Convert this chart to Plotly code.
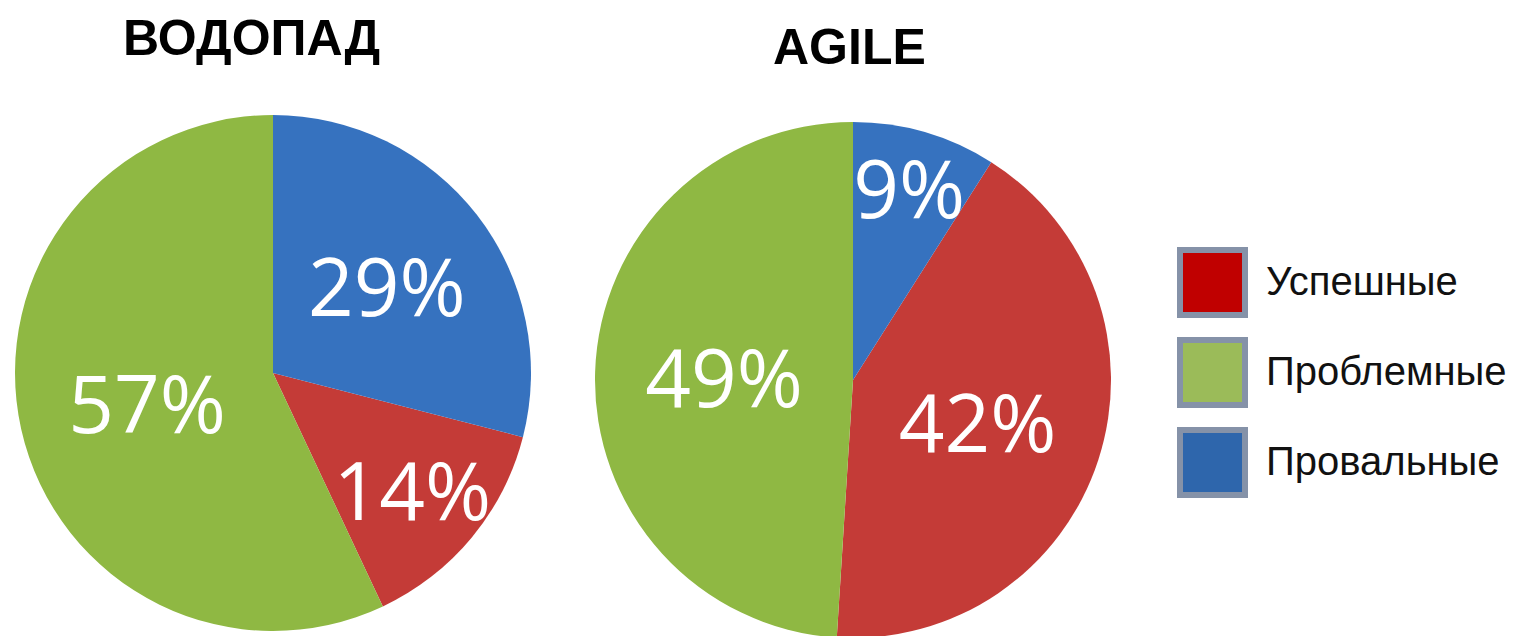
import plotly.graph_objects as go

# ---- data ----
categories = ["Успешные", "Проблемные", "Провальные"]
waterfall_values = [14, 57, 29]
agile_values = [42, 49, 9]
chart_titles = ["ВОДОПАД", "AGILE"]

# ---- style ----
W, H = 1519, 636
pie_colors = ["#C43B37", "#8FB843", "#3672BF"]
legend_colors = ["#C00000", "#9BBB59", "#2E66AC"]
legend_border = "#8592A8"


def px(x):
    return x / W


def py(y):
    return 1 - y / H


def rotation_for(values):
    # first slice (Успешные) starts right after the Провальные slice (which starts at 12 o'clock)
    return values[2] / sum(values) * 360


fig = go.Figure()

pie_font = dict(family="Open Sans, Lato, sans-serif", size=80, color="white")

fig.add_trace(go.Pie(
    labels=categories, values=waterfall_values, sort=False, direction="clockwise",
    rotation=rotation_for(waterfall_values),
    marker=dict(colors=pie_colors, line=dict(width=0)),
    texttemplate="%{value}%", textposition="inside", insidetextorientation="horizontal",
    textfont=pie_font, hoverinfo="label+value",
    domain=dict(x=[px(7), px(523)], y=[py(623), py(107)]),
    showlegend=False,
))
fig.add_trace(go.Pie(
    labels=categories, values=agile_values, sort=False, direction="clockwise",
    rotation=rotation_for(agile_values),
    marker=dict(colors=pie_colors, line=dict(width=0)),
    texttemplate="%{value}%", textposition="inside", insidetextorientation="horizontal",
    textfont=pie_font, hoverinfo="label+value",
    domain=dict(x=[px(587), px(1103)], y=[py(630), py(114)]),
    showlegend=False,
))

title_font = dict(family="Liberation Sans, Arial, sans-serif", size=50, color="black")
annotations = [
    dict(text="<b>%s</b>" % chart_titles[0], x=px(243), y=py(30), xref="paper", yref="paper",
         showarrow=False, font=title_font, xanchor="center", yanchor="middle"),
    dict(text="<b>%s</b>" % chart_titles[1], x=px(841), y=py(39), xref="paper", yref="paper",
         showarrow=False, font=title_font, xanchor="center", yanchor="middle"),
]

shapes = []
legend_top = 242
legend_step = 90
sq = 65
for i, (name, col) in enumerate(zip(categories, legend_colors)):
    y0 = legend_top + i * legend_step
    shapes.append(dict(type="rect", xref="paper", yref="paper",
                       x0=px(1172), x1=px(1172 + sq), y0=py(y0 + sq), y1=py(y0),
                       fillcolor=col, line=dict(color=legend_border, width=6)))
    annotations.append(dict(text=name, x=px(1256), y=py(y0 + sq / 2 - 2), xref="paper", yref="paper",
                            showarrow=False, xanchor="left", yanchor="middle",
                            font=dict(family="Liberation Sans, Arial, sans-serif", size=40, color="#111111")))

fig.update_layout(
    width=W, height=H,
    margin=dict(l=0, r=0, t=0, b=0),
    paper_bgcolor="white", plot_bgcolor="white",
    uniformtext=dict(minsize=80, mode="show"),
    annotations=annotations, shapes=shapes,
)

fig.write_html("out.html")
